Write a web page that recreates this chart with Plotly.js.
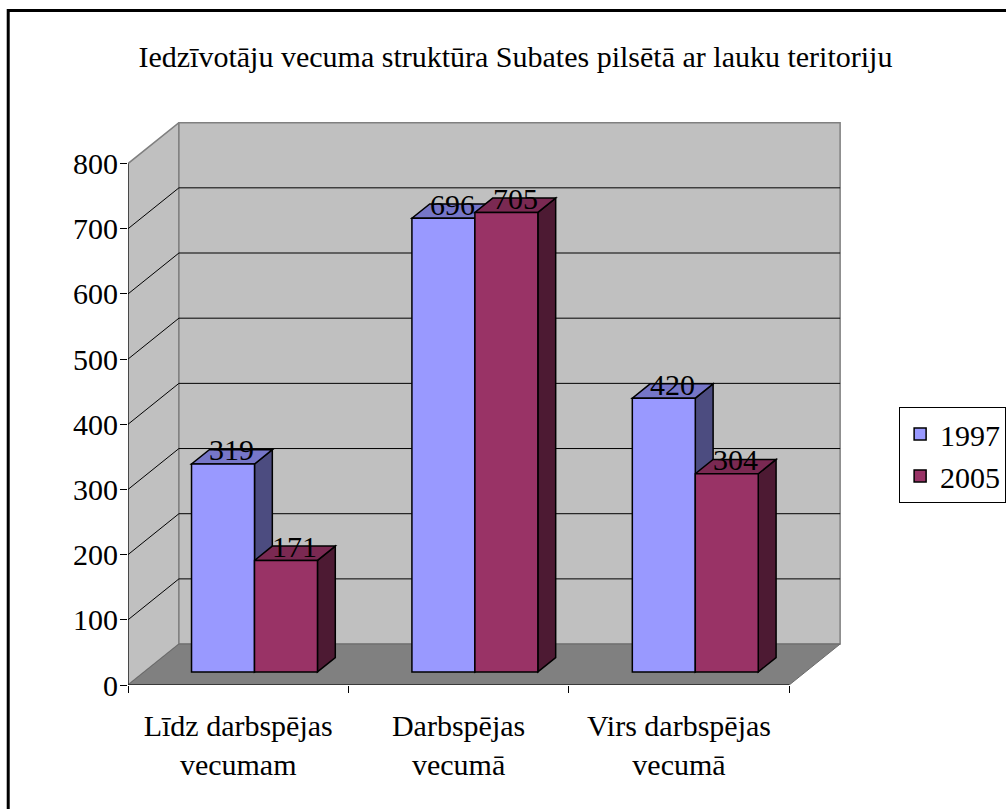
<!DOCTYPE html>
<html>
<head>
<meta charset="utf-8">
<script src="https://cdn.plot.ly/plotly-3.0.1.min.js"></script>
<style>
  html, body { margin: 0; padding: 0; background: #ffffff; }
  #chart { width: 1006px; height: 809px; }
</style>
</head>
<body>
<div id="chart"></div>
<script>
// ---- data ----
const categories = ['Līdz darbspējas<br>vecumam', 'Darbspējas<br>vecumā', 'Virs darbspējas<br>vecumā'];
const seriesNames = ['1997', '2005'];
const values1997 = [319, 696, 420];
const values2005 = [171, 705, 304];
const yTickValues = [0, 100, 200, 300, 400, 500, 600, 700, 800];
const chartTitle = 'Iedzīvotāju vecuma struktūra Subates pilsētā ar lauku teritoriju';

// ---- styling / geometry of the pseudo-3D look ----
const frontColors = ['#9999ff', '#993366'];
const topColors = ['#7676c8', '#7a2952'];
const sideColors = ['#4c4c80', '#4d1a33'];
const FONT = 'Liberation Serif';
const DX = 0.2311;   // full depth, x-axis units
const DY = 62.8;     // full depth, y-axis units
const F1 = 0.32, F2 = 0.67; // bar front/back depth fractions
const BW = 0.2857;   // bar width
const YMAX = 800;
const XMIN = -0.5, XMAX = categories.length - 0.5;

const allValues = [values1997, values2005];
const shapes = [];
const poly = (pts) => 'M' + pts.map(p => p[0] + ',' + p[1]).join(' L') + ' Z';
const line = (pts) => 'M' + pts.map(p => p[0] + ',' + p[1]).join(' L');

// side wall
shapes.push({type: 'path', xref: 'x', yref: 'y', layer: 'below',
  path: poly([[XMIN, 0], [XMIN + DX, DY], [XMIN + DX, YMAX + DY], [XMIN, YMAX]]),
  fillcolor: '#c0c0c0', line: {color: '#808080', width: 1.5}});
// back wall
shapes.push({type: 'path', xref: 'x', yref: 'y', layer: 'below',
  path: poly([[XMIN + DX, DY], [XMAX + DX, DY], [XMAX + DX, YMAX + DY], [XMIN + DX, YMAX + DY]]),
  fillcolor: '#c0c0c0', line: {color: '#808080', width: 1.5}});
// floor
shapes.push({type: 'path', xref: 'x', yref: 'y', layer: 'below',
  path: poly([[XMIN, 0], [XMAX, 0], [XMAX + DX, DY], [XMIN + DX, DY]]),
  fillcolor: '#808080', line: {color: '#6a6a6a', width: 1}});
// gridlines
yTickValues.filter(v => v > 0 && v < YMAX).forEach(v => {
  shapes.push({type: 'path', xref: 'x', yref: 'y', layer: 'below',
    path: line([[XMIN, v], [XMIN + DX, v + DY], [XMAX + DX, v + DY]]),
    line: {color: '#000000', width: 1}});
});
// front axis lines
shapes.push({type: 'line', xref: 'x', yref: 'y', layer: 'below',
  x0: XMIN, x1: XMIN, y0: 0, y1: YMAX, line: {color: '#000000', width: 1}});
shapes.push({type: 'line', xref: 'x', yref: 'y', layer: 'below',
  x0: XMIN, x1: XMAX, y0: 0, y1: 0, line: {color: '#000000', width: 1}});

// bar tops & sides (front faces are bar traces)
const ddx = (F2 - F1) * DX, ddy = (F2 - F1) * DY;
const base = F1 * DY;
const annotations = [];
categories.forEach((c, i) => {
  allValues.forEach((vals, s) => {
    const v = vals[i];
    const xl = i - BW + s * BW + F1 * DX;
    const xr = xl + BW;
    shapes.push({type: 'path', xref: 'x', yref: 'y', layer: 'below',
      path: poly([[xr, base], [xr + ddx, base + ddy], [xr + ddx, base + v + ddy], [xr, base + v]]),
      fillcolor: sideColors[s], line: {color: '#000000', width: 1.5}});
    shapes.push({type: 'path', xref: 'x', yref: 'y', layer: 'below',
      path: poly([[xl, base + v], [xr, base + v], [xr + ddx, base + v + ddy], [xl + ddx, base + v + ddy]]),
      fillcolor: topColors[s], line: {color: '#000000', width: 1.5}});
    const mid = (F1 + F2) / 2;
    annotations.push({xref: 'x', yref: 'y', x: i - BW + s * BW + BW / 2 + mid * DX, y: v + mid * DY,
      text: String(v), showarrow: false, yshift: 7,
      font: {family: FONT, size: 30, color: '#000000'}});
  });
});

// outer chart border
shapes.push({type: 'rect', xref: 'paper', yref: 'paper', layer: 'above',
  x0: -0.168, x1: 1.5, y0: -0.5, y1: 1.198, line: {color: '#000000', width: 3}, fillcolor: 'rgba(0,0,0,0)'});

const traces = allValues.map((vals, s) => ({
  type: 'bar',
  name: seriesNames[s],
  x: categories.map((c, i) => i - BW + s * BW + BW / 2 + F1 * DX),
  y: vals,
  base: vals.map(() => base),
  width: vals.map(() => BW),
  marker: {color: frontColors[s], line: {color: '#000000', width: 1.5}},
  hoverinfo: 'skip'
}));

const layout = {
  width: 1006, height: 809,
  paper_bgcolor: '#ffffff', plot_bgcolor: 'rgba(0,0,0,0)',
  margin: {l: 128, r: 165, t: 122, b: 123.5, pad: 0, autoexpand: false},
  barmode: 'overlay',
  font: {family: FONT, size: 30, color: '#000000'},
  title: {text: chartTitle, x: 0.5124, xref: 'container', xanchor: 'center',
    y: 0.93, yref: 'container', yanchor: 'middle',
    font: {family: FONT, size: 30, color: '#000000'}},
  xaxis: {range: [XMIN, XMAX + DX + 0.004], tickvals: categories.map((c, i) => i), ticktext: categories,
    ticks: '', ticklabelstandoff: 20, showgrid: false, zeroline: false, showline: false, fixedrange: true,
    tickfont: {family: FONT, size: 30, color: '#000000'}},
  xaxis2: {range: [XMIN, XMAX + DX + 0.004], overlaying: 'x', anchor: 'y', side: 'bottom',
    tickvals: categories.map((c, i) => i - 0.5).concat([XMAX]), ticks: 'outside', ticklen: 7,
    tickcolor: '#000000', tickwidth: 1, showticklabels: false, showgrid: false, zeroline: false, showline: false},
  yaxis: {range: [0, YMAX + DY + 1], tickvals: yTickValues, ticks: 'outside', ticklen: 7,
    ticklabelstandoff: -4,
    tickcolor: '#000000', tickwidth: 1, showgrid: false, zeroline: false, showline: false, fixedrange: true,
    tickfont: {family: FONT, size: 30, color: '#000000'}},
  legend: {x: 1.0815, xanchor: 'left', y: 0.494, yanchor: 'top', bgcolor: '#ffffff',
    bordercolor: '#000000', borderwidth: 1, font: {family: FONT, size: 30, color: '#000000'}},
  shapes: shapes,
  annotations: annotations,
  showlegend: true
};

// invisible helper trace so the boundary-tick axis is drawn
traces.push({type: 'scatter', x: [XMIN], y: [0], xaxis: 'x2', yaxis: 'y', mode: 'markers',
  marker: {opacity: 0}, showlegend: false, hoverinfo: 'skip'});

Plotly.newPlot('chart', traces, layout, {displayModeBar: false, staticPlot: true});
</script>
</body>
</html>
